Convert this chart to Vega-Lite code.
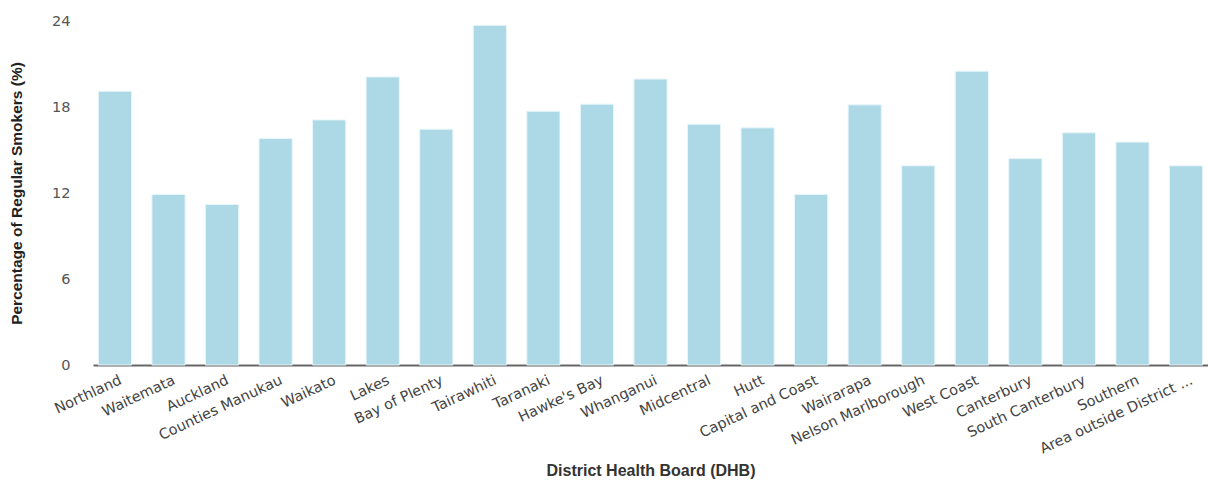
{
  "$schema": "https://vega.github.io/schema/vega-lite/v6.json",
  "autosize": {"type": "none"},
  "padding": {"left": 93, "top": 21, "right": 0, "bottom": 116},
  "width": 1115,
  "height": 344,
  "background": "white",
  "config": {"view": {"stroke": null}, "font": "Liberation Sans"},
  "data": {"values": [
    {"dhb": "Northland", "pct": 19.1},
    {"dhb": "Waitemata", "pct": 11.9},
    {"dhb": "Auckland", "pct": 11.2},
    {"dhb": "Counties Manukau", "pct": 15.8},
    {"dhb": "Waikato", "pct": 17.1},
    {"dhb": "Lakes", "pct": 20.1},
    {"dhb": "Bay of Plenty", "pct": 16.45},
    {"dhb": "Tairawhiti", "pct": 23.7},
    {"dhb": "Taranaki", "pct": 17.7},
    {"dhb": "Hawke's Bay", "pct": 18.2},
    {"dhb": "Whanganui", "pct": 19.95},
    {"dhb": "Midcentral", "pct": 16.8},
    {"dhb": "Hutt", "pct": 16.55},
    {"dhb": "Capital and Coast", "pct": 11.9},
    {"dhb": "Wairarapa", "pct": 18.15},
    {"dhb": "Nelson Marlborough", "pct": 13.9},
    {"dhb": "West Coast", "pct": 20.5},
    {"dhb": "Canterbury", "pct": 14.4},
    {"dhb": "South Canterbury", "pct": 16.2},
    {"dhb": "Southern", "pct": 15.55},
    {"dhb": "Area outside District ...", "pct": 13.9}
  ]},
  "mark": {"type": "bar", "color": "#add8e6", "stroke": "#e8f6fa", "strokeWidth": 1},
  "encoding": {
    "x": {
      "field": "dhb", "type": "nominal", "sort": null,
      "scale": {"paddingInner": 0.38, "paddingOuter": 0.1},
      "axis": {
        "title": "District Health Board (DHB)",
        "titleFontSize": 16, "titleFontWeight": "bold", "titleColor": "#333333",
        "titlePadding": 7,
        "labelAngle": -25, "labelAlign": "right", "labelBaseline": "top",
        "labelFont": "DejaVu Sans",
        "labelFontSize": 14.5, "labelColor": "#444444", "labelOffset": 3,
        "labelPadding": 8,
        "ticks": false, "domainColor": "#666666", "domainWidth": 2,
        "labelOverlap": false
      }
    },
    "y": {
      "field": "pct", "type": "quantitative",
      "scale": {"domain": [0, 24], "nice": false},
      "axis": {
        "title": "Percentage of Regular Smokers (%)",
        "titleFontSize": 15.5, "titleFontWeight": "bold", "titleColor": "#222222",
        "titlePadding": 27,
        "values": [0, 6, 12, 18, 24],
        "labelFont": "DejaVu Sans",
        "labelFontSize": 14.5, "labelColor": "#555555", "labelPadding": 23,
        "ticks": false, "domain": false, "grid": false
      }
    }
  }
}
